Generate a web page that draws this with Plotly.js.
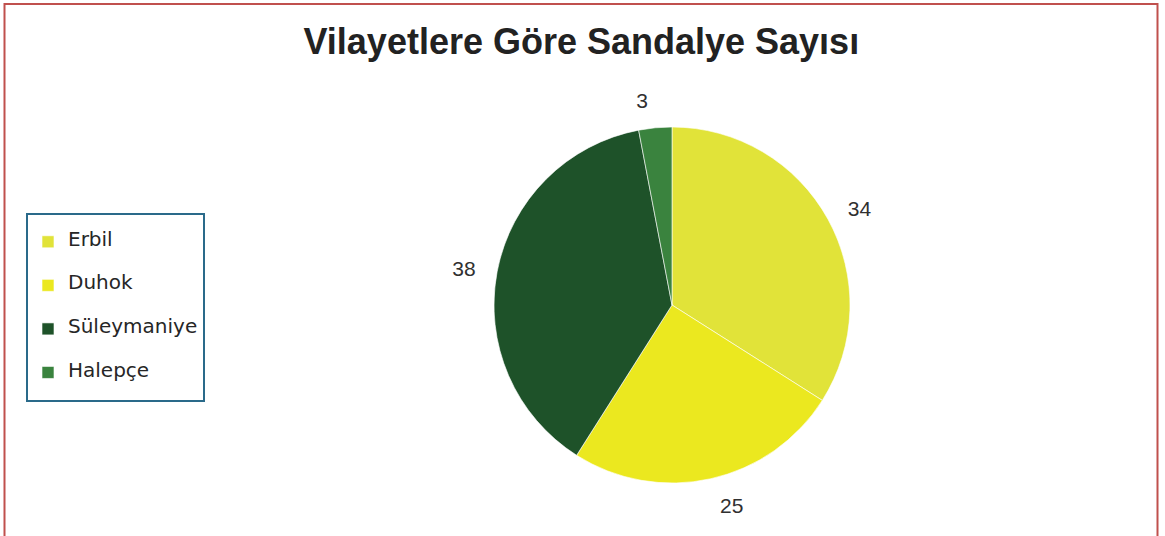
<!DOCTYPE html>
<html>
<head>
<meta charset="utf-8">
<script src="https://cdn.plot.ly/plotly-3.0.1.min.js"></script>
<style>
  html, body { margin: 0; padding: 0; background: #ffffff; }
  #chart { width: 1165px; height: 536px; }
</style>
</head>
<body>
<div id="chart"></div>
<script>
// Data
const categories = ['Erbil', 'Duhok', 'Süleymaniye', 'Halepçe'];
const seats = [34, 25, 38, 3];
const sliceColors = ['#e1e339', '#ebe81f', '#1e5229', '#3a833e'];
const chartTitle = 'Vilayetlere Göre Sandalye Sayısı';

const W = 1165, H = 536;
const cx = 672, cy = 305, r = 178, rLabel = 194;

function domainFor(rad) {
  return {
    x: [(cx - rad) / W, (cx + rad) / W],
    y: [1 - (cy + rad) / H, 1 - (cy - rad) / H]
  };
}

// legend entries: blank lines above and below reproduce the reference's wide row spacing
const legendLabels = categories.map(c => ' <br><span style="font-size:20px">' + c + '</span><br> ');

const pieMain = {
  type: 'pie',
  labels: legendLabels,
  values: seats,
  sort: false,
  direction: 'clockwise',
  rotation: 0,
  domain: domainFor(r),
  marker: { colors: sliceColors, line: { color: '#ffffff', width: 0.6 } },
  textinfo: 'none',
  hovertext: categories,
  hovertemplate: '%{hovertext}: %{value}<extra></extra>',
  showlegend: true
};

const pieLabels = {
  type: 'pie',
  labels: legendLabels,
  values: seats,
  sort: false,
  direction: 'clockwise',
  rotation: 0,
  domain: domainFor(rLabel),
  marker: { colors: categories.map(() => 'rgba(0,0,0,0)'), line: { width: 0 } },
  textinfo: 'value',
  textposition: 'outside',
  outsidetextfont: { family: 'Liberation Sans, Arial, sans-serif', size: 21, color: '#303030' },
  hoverinfo: 'skip',
  showlegend: false
};

const layout = {
  width: W,
  height: H,
  margin: { l: 0, r: 0, t: 0, b: 0 },
  paper_bgcolor: '#ffffff',
  plot_bgcolor: '#ffffff',
  title: {
    text: '<b>' + chartTitle + '</b>',
    font: { family: 'Liberation Sans, Arial, sans-serif', size: 36, color: '#222222' },
    xref: 'container', yref: 'container',
    x: 0.499, xanchor: 'center',
    y: 1 - 41.5 / H, yanchor: 'middle'
  },
  legend: {
    x: 26 / W, xanchor: 'left',
    y: 1 - 213 / H, yanchor: 'top',
    bordercolor: '#2a6a8a',
    borderwidth: 2,
    bgcolor: '#ffffff',
    font: { family: 'DejaVu Sans, sans-serif', size: 10.4, color: '#262626' }
  },
  shapes: [{
    type: 'rect', xref: 'paper', yref: 'paper',
    x0: 4.5 / W, x1: 1157.5 / W, y0: -0.05, y1: 1 - 4 / H,
    line: { color: '#c0504d', width: 2 },
    fillcolor: 'rgba(0,0,0,0)'
  }],
  showlegend: true
};

Plotly.newPlot('chart', [pieMain, pieLabels], layout, { displayModeBar: false, staticPlot: true });
</script>
</body>
</html>
